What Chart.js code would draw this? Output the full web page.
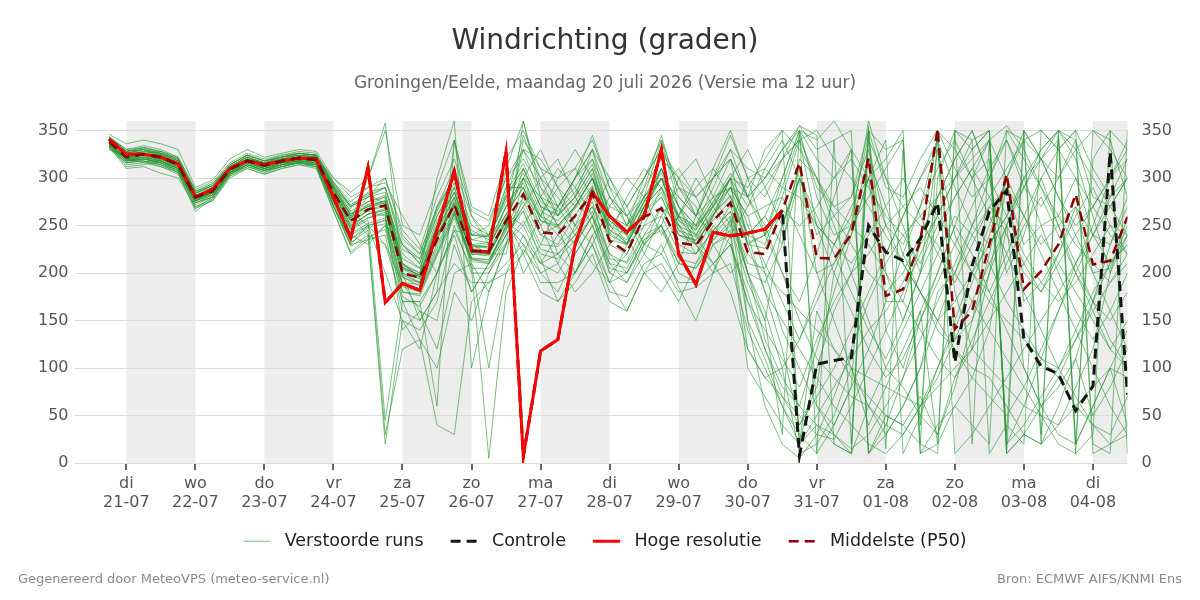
<!DOCTYPE html>
<html>
<head>
<meta charset="utf-8">
<script src="https://cdn.jsdelivr.net/npm/chart.js@4.4.1/dist/chart.umd.min.js"></script>
<style>
  html, body { margin: 0; padding: 0; background: #fff; }
  #wrap { width: 1200px; height: 600px; }
</style>
</head>
<body>
<div id="wrap"><canvas id="grafiek"></canvas></div>
<script>
// dagen op de x-as (labels bij middernacht)
const dayNames = ['di','wo','do','vr','za','zo','ma','di','wo','do','vr','za','zo','ma','di'];
const dayDates = ['21-07','22-07','23-07','24-07','25-07','26-07','27-07','28-07','29-07','30-07','31-07','01-08','02-08','03-08','04-08'];

// uren t.o.v. 21-07 00:00, stap 6 uur, start 20-07 18:00
const startHour = -6;
const stepHours = 6;

// Hoge resolutie (loopt tot 30-07 12 uur)
const hogeRes = [341,325,325,322,315,280,288,310,318,314,318,321,320,280,237,311,169,189,182,245,307,224,222,328,7,118,130,230,285,260,243,260,330,220,188,243,239,242,246,266];

// Controle run
const controle = [341,325,325,322,315,280,288,310,318,314,318,321,320,280,237,311,169,189,182,245,307,224,222,328,7,118,130,230,285,260,243,260,330,220,188,243,239,242,246,266,
  8,104,108,111,250,222,213,236,274,106,208,265,287,131,102,94,55,81,327,72];

// Middelste (P50)
const mediaan = [338,322,325,322,314,280,286,309,318,313,318,321,319,285,255,267,271,200,195,235,272,223,223,255,283,243,241,260,284,234,222,259,268,232,229,255,274,222,220,266,
  316,216,215,241,321,176,183,234,352,141,160,230,304,183,202,230,283,209,213,259];

// Verstoorde runs (ensemble leden)
const runs = [
  [336,318,322,318,310,278,284,306,316,310,316,318,316, 282,250,262,268,195,190,238,270,222,220,255, 330,300,280,250,230,270,300,280,240,260,290,310,280,240,260,230, 300,240,260,280,330,250,230,270,340,290,250,230,260,300,320,280,250,270,300,330],
  [340,324,328,325,318,284,290,312,322,316,320,324,322, 290,262,275,280,210,200,250,285,230,226,270, 300,255,250,270,300,245,232,270,290,240,235,265,290,240,230,280, 340,250,230,260,345,200,150,200,330,180,120,200,290,230,250,260,300,240,230,270],
  [334,316,320,316,308,276,282,305,314,308,314,317,315, 276,240,250,255,180,178,220,262,215,210,240, 270,230,228,245,275,215,212,250,260,222,220,245,265,210,205,250, 300,60,40,80,350,140,100,160,20,60,90,140,250,100,60,80,110,50,80,120],
  [342,330,334,330,322,288,296,316,326,320,324,328,326, 296,270,280,300,240,220,270,300,250,240,290, 330,280,270,290,320,260,250,280,340,270,250,280,320,230,180,120, 40,80,200,250,360,300,250,200,280,320,350,300,200,240,300,330,350,310,280,320],
  [332,320,318,312,306,265,278,304,312,306,312,316,312, 270,228,240,20,150,140,170,250,200,200,230, 250,210,200,230,260,200,190,230,250,210,205,235,255,200,160,100, 10,20,50,100,40,80,120,160,200,250,220,180,140,100,60,30,20,60,100,40],
  [338,326,330,322,316,282,288,310,320,314,318,322,320, 288,256,300,358,200,150,180,340,260,230,310, 360,290,270,300,330,260,240,290,345,280,260,310,350,300,280,320, 355,330,340,350,10,30,60,100,180,200,250,300,350,340,320,300,330,350,340,280],
  [344,330,326,328,320,286,292,314,324,318,322,326,324, 292,268,284,272,230,210,260,290,245,235,280, 310,270,260,280,310,250,240,275,310,255,240,270,300,150,110,60, 20,100,160,200,250,220,260,300,330,240,200,180,220,260,300,250,200,160,120,150],
  [336,312,314,318,312,278,286,308,316,312,316,318,318, 280,245,256,45,170,170,200,265,210,100,200, 240,210,220,240,270,220,210,240,270,230,220,245,265,200,190,230, 320,300,250,200,150,100,80,50,30,80,150,200,250,300,330,350,320,260,200,240],
  [330,322,324,320,314,268,280,306,318,310,314,320,318, 284,255,265,260,190,188,240,272,205,5,180, 225,200,210,250,290,235,230,265,300,245,230,262,280,230,240,300, 350,280,240,250,320,270,220,180,140,120,100,90,60,30,20,40,80,120,200,260],
  [340,322,326,324,316,280,290,310,320,316,320,322,322, 290,262,270,276,205,198,245,280,228,230,262, 250,280,310,290,260,300,270,230,250,300,320,280,250,300,310,290, 280,250,230,210,240,270,300,260,220,190,230,270,250,210,180,220,260,290,250,220],
  [338,320,316,320,312,276,288,308,318,314,318,320,318, 278,248,258,262,140,160,150,230,180,210,250, 280,260,240,220,250,200,220,260,310,270,250,270,290,260,200,140, 100,60,30,15,30,60,90,130,170,210,250,280,310,340,350,330,300,270,240,220],
  [342,328,332,326,320,282,286,312,322,314,320,324,322, 300,280,290,295,260,230,200,245,240,250,300, 320,290,260,280,330,280,260,280,310,260,250,290,330,280,250,200, 150,110,90,70,60,40,30,60,100,140,190,240,300,350,320,280,240,200,160,120],
  [335,318,322,314,308,274,280,304,312,308,312,316,314, 272,230,235,250,170,170,60,340,230,220,220, 300,280,250,200,230,190,200,235,250,200,190,230,240,100,70,40, 20,50,80,110,140,160,190,230,260,300,340,350,10,30,60,90,130,170,210,240],
  [339,324,324,322,316,278,284,308,318,312,318,320,320, 286,258,270,274,210,196,240,275,224,224,258, 300,330,290,250,270,240,280,310,290,250,220,260,300,330,290,250, 310,200,210,240,300,170,170,230,345,130,150,220,300,170,190,220,270,200,205,250],
  [333,310,312,305,300,270,276,302,310,304,310,314,312, 265,220,235,240,160,150,180,210,190,190,210, 230,190,190,200,230,180,175,210,220,190,190,210,230,180,120,80, 60,40,20,10,60,100,140,180,220,260,240,210,170,140,110,90,60,40,30,70],
  [346,336,340,336,330,290,298,320,330,322,326,330,328, 300,285,300,350,250,240,290,340,270,260,320, 350,310,300,310,340,290,270,300,330,290,280,300,330,310,300,330, 350,340,360,330,300,320,350,10,20,350,330,350,10,30,20,350,340,10,20,40],
  [337,320,326,318,310,280,282,306,316,310,316,318,316, 284,250,262,266,200,194,236,270,220,218,254, 240,200,180,220,250,280,260,220,200,170,210,250,230,170,140,110, 80,130,170,200,220,250,270,290,260,230,200,170,150,130,110,100,130,160,190,210],
  [341,326,328,326,318,284,292,312,322,316,322,324,324, 292,265,275,282,220,205,250,285,235,232,270, 295,255,248,268,292,242,230,265,285,245,238,262,282,232,240,290, 345,290,270,280,350,290,280,320,350,310,280,300,340,290,270,300,340,280,270,300],
  [334,318,320,316,308,274,280,304,314,308,314,316,314, 274,232,245,30,120,130,40,30,170,190,200, 220,180,170,190,220,170,160,200,210,180,185,200,210,140,100,60, 30,10,40,80,120,170,220,270,310,340,300,260,220,180,140,100,70,40,20,30],
  [339,322,324,324,314,282,284,308,320,312,318,322,320, 270,230,250,200,150,120,200,240,180,210,250, 310,270,220,200,240,260,240,200,180,210,260,300,320,280,240,264, 20,160,120,90,70,50,40,70,30,90,130,170,210,250,280,240,200,170,150,180],
  [336,322,322,320,312,278,288,310,318,312,318,320,318, 282,252,266,270,200,190,240,272,220,220,255, 200,230,270,300,330,300,260,230,220,260,300,270,240,240,260,300, 350,320,300,330,10,50,40,20,350,330,300,320,30,350,320,340,10,30,350,330],
  [340,326,330,324,318,280,290,310,320,316,320,322,322, 290,260,280,285,210,195,250,290,230,232,270, 300,260,250,270,300,245,235,270,300,250,240,270,300,250,210,170, 130,180,230,270,300,250,210,180,150,120,90,70,50,80,120,160,200,240,280,300],
  [332,316,318,314,306,270,278,302,312,306,312,316,312, 270,235,248,252,180,176,218,258,212,210,240, 265,225,220,240,265,210,205,240,250,215,210,235,250,190,150,250, 300,260,220,180,140,110,150,200,240,280,310,280,240,200,180,210,240,270,300,320],
  [343,330,332,328,322,286,294,314,324,318,322,326,324, 294,272,282,290,230,215,265,300,240,238,282, 310,270,262,280,310,255,242,276,300,258,246,272,300,270,290,320, 340,300,260,230,200,180,200,240,280,320,350,300,260,220,190,170,190,220,250,240],
  [336,320,322,318,310,276,286,306,316,310,316,318,318, 290,260,240,230,170,130,100,180,150,200,240, 270,300,320,280,250,210,190,220,260,290,270,230,200,220,200,180, 160,140,120,100,90,80,70,60,80,100,120,100,80,60,50,40,60,80,100,90],
  [338,324,326,322,314,280,288,310,318,314,318,320,320, 286,258,272,276,206,198,300,360,100,180,230, 360,280,250,270,300,240,230,265,280,240,234,256,276,230,226,266, 250,270,300,320,290,260,240,210,250,280,310,340,300,260,230,250,270,240,210,230],
  [335,318,320,318,310,276,284,306,316,310,316,318,316, 275,240,230,250,230,210,270,310,260,240,290, 290,250,210,180,200,230,250,280,300,270,240,210,180,120,90,70, 50,30,25,60,100,140,180,220,260,300,330,350,20,40,70,100,140,180,210,230],
  [337,322,324,320,312,278,286,308,318,312,318,320,318, 284,254,266,272,204,196,240,274,222,222,258, 220,260,290,310,280,250,270,300,330,300,260,240,272,200,150,30, 350,10,340,20,355,15,330,40,300,350,20,340,10,350,30,345,20,320,350,10],
  [341,328,330,326,320,284,292,314,324,318,322,326,324, 294,270,280,290,236,220,268,300,240,240,285, 315,275,265,285,315,260,245,280,305,260,248,275,305,280,300,330, 355,345,20,10,340,300,270,250,230,200,170,140,110,80,50,20,10,350,330,300],
  [333,316,318,314,306,272,280,304,314,308,312,316,314, 270,236,250,256,186,180,222,262,214,212,244, 340,310,270,240,210,190,230,270,290,260,230,200,258,150,60,20, 5,30,70,120,170,210,240,260,280,300,320,340,355,330,290,250,210,170,130,100],
  [339,326,326,324,316,282,290,310,320,316,318,322,320, 288,262,272,280,215,205,255,285,235,240,275, 345,300,260,300,345,290,250,300,340,290,260,300,345,300,240,200, 170,220,280,330,10,40,90,150,200,250,300,340,20,60,110,160,210,250,300,340],
  [335,320,320,316,310,276,282,306,314,310,314,318,316, 280,246,258,264,196,186,230,266,215,214,248, 265,215,170,200,240,190,160,200,230,185,150,200,240,270,310,340, 300,250,200,160,120,90,110,150,190,230,270,310,340,300,250,200,160,130,160,200],
  [343,328,332,328,320,286,294,314,324,318,324,326,324, 296,275,290,300,245,225,280,320,265,255,300, 330,320,290,270,300,270,260,290,320,300,280,300,320,280,330,350, 20,40,30,10,350,330,340,20,10,350,340,10,40,20,350,330,350,20,10,350],
  [331,314,316,312,304,268,276,300,310,304,310,314,310, 266,222,238,246,175,165,200,245,205,205,232, 255,220,215,235,260,205,200,235,245,210,205,230,245,120,90,100, 130,170,210,250,230,200,170,140,110,90,120,150,180,210,240,210,180,150,120,100],
  [340,324,324,322,316,280,290,312,320,314,320,322,322, 290,265,250,230,190,160,120,200,210,180,230, 280,250,270,300,320,280,250,270,300,280,260,280,290,260,270,280, 240,200,150,100,60,30,60,100,150,200,240,270,290,260,220,180,140,100,60,30],
  [337,320,324,320,312,278,286,308,318,312,316,320,318, 284,256,268,274,206,198,244,278,226,228,262, 290,260,300,330,300,250,230,250,290,310,280,240,260,200,130,90, 60,120,180,240,300,340,10,50,100,150,200,250,300,340,20,60,110,170,230,280],
  [338,322,326,322,314,280,288,310,318,314,318,320,320, 286,260,270,276,208,200,246,280,228,228,262, 290,240,230,260,290,230,220,260,280,240,230,260,290,280,300,320, 340,350,320,300,270,240,210,180,150,170,200,230,260,290,320,350,330,300,270,240],
  [334,318,320,316,308,274,282,304,314,308,314,316,314, 276,242,252,258,188,182,226,264,216,214,246, 275,240,250,230,260,220,200,230,270,250,230,210,230,170,120,70, 40,70,100,140,180,220,260,300,340,10,30,60,90,120,150,180,210,240,270,300],
  [342,328,330,326,318,284,292,312,322,316,322,324,322, 292,270,285,290,225,215,260,295,240,238,280, 305,265,255,275,305,255,240,275,300,255,245,275,300,290,320,350, 330,300,270,250,280,310,340,10,40,60,40,20,350,320,290,260,230,210,190,220],
  [336,320,322,318,310,276,286,306,316,310,316,318,316, 280,248,262,266,198,190,236,272,220,220,252, 230,210,240,270,300,260,230,270,310,270,230,260,300,240,180,150, 120,90,60,40,20,10,30,60,90,130,170,210,250,290,330,350,20,60,100,140]
];

Chart.defaults.font.family = "'DejaVu Sans', sans-serif";

function punten(vals) {
  return vals.map((v, i) => ({ x: startHour + i * stepHours, y: v }));
}

const datasets = [];
runs.forEach((r, i) => {
  datasets.push({
    label: i === 0 ? 'Verstoorde runs' : '',
    data: punten(r),
    borderColor: 'rgba(40,150,50,0.6)',
    borderWidth: 1,
    pointRadius: 0,
    order: 4
  });
});
datasets.push({ label: 'Controle', data: punten(controle), borderColor: '#151515', borderWidth: 3, borderDash: [10, 6], pointRadius: 0, order: 3 });
datasets.push({ label: 'Hoge resolutie', data: punten(hogeRes), borderColor: '#ff0000', borderWidth: 3, pointRadius: 0, order: 2 });
datasets.push({ label: 'Middelste (P50)', data: punten(mediaan), borderColor: '#8b0000', borderWidth: 2.5, borderDash: [10, 6], pointRadius: 0, order: 1 });

// grijze banden om de dag
const dagBanden = {
  id: 'dagBanden',
  beforeDraw(chart) {
    const ctx = chart.ctx, x = chart.scales.x, a = chart.chartArea;
    ctx.save();
    ctx.fillStyle = '#ededed';
    for (let d = 0; d < dayDates.length; d += 2) {
      const l = Math.max(x.getPixelForValue(d * 24), a.left);
      const r = Math.min(x.getPixelForValue(d * 24 + 24), a.right);
      if (r > l) ctx.fillRect(l, a.top, r - l, a.bottom - a.top);
    }
    ctx.restore();
  }
};

// voettekst
const voetTekst = {
  id: 'voetTekst',
  afterDraw(chart) {
    const ctx = chart.ctx;
    ctx.save();
    ctx.font = "13px 'DejaVu Sans', sans-serif";
    ctx.fillStyle = '#8a8a8a';
    ctx.textBaseline = 'middle';
    ctx.textAlign = 'left';
    ctx.fillText('Gegenereerd door MeteoVPS (meteo-service.nl)', 18, 580);
    ctx.textAlign = 'right';
    ctx.fillText('Bron: ECMWF AIFS/KNMI Ens', 1182, 580);
    ctx.restore();
  }
};

const yTicks = { stepSize: 50, includeBounds: false, font: { size: 16 }, color: '#555', padding: 6 };
const standaardLabels = Chart.defaults.plugins.legend.labels.generateLabels;

new Chart(document.getElementById('grafiek'), {
  type: 'line',
  data: { datasets: datasets },
  plugins: [dagBanden, voetTekst],
  options: {
    responsive: true,
    maintainAspectRatio: false,
    animation: false,
    layout: { padding: { left: 32, right: 22, bottom: 40 } },
    plugins: {
      title: {
        display: true,
        text: 'Windrichting (graden)',
        font: { size: 28, weight: 'normal' },
        color: '#333',
        padding: { top: 25, bottom: 15 }
      },
      subtitle: {
        display: true,
        text: 'Groningen/Eelde, maandag 20 juli 2026 (Versie ma 12 uur)',
        font: { size: 17 },
        color: '#666',
        padding: { bottom: 27 }
      },
      legend: {
        position: 'bottom',
        labels: {
          usePointStyle: true,
          pointStyle: 'line',
          pointStyleWidth: 27,
          font: { size: 17.5 },
          color: '#222',
          padding: 16,
          // lijnstijl van de dataset overnemen + extra ruimte tussen de items
          generateLabels: chart => standaardLabels(chart).map(it => {
            const ds = chart.data.datasets[it.datasetIndex];
            it.strokeStyle = ds.borderColor;
            it.lineWidth = ds.borderWidth;
            it.lineDash = ds.borderDash || [];
            if (it.text) it.text = ' ' + it.text + (it.text !== 'Middelste (P50)' ? '  ' : '');
            return it;
          }),
          filter: item => item.text !== '',
          sort: (a, b) => a.datasetIndex - b.datasetIndex
        }
      },
      tooltip: { enabled: false }
    },
    scales: {
      x: {
        type: 'linear',
        min: -18,
        max: 348,
        afterBuildTicks: s => { s.ticks = dayDates.map((d, i) => ({ value: i * 24 })); },
        ticks: {
          autoSkip: false,
          maxRotation: 0,
          font: { size: 16 },
          color: '#555',
          padding: 4,
          callback: v => { const i = Math.round(v / 24); return [dayNames[i], dayDates[i]]; }
        },
        grid: { drawOnChartArea: false, tickLength: 7, color: '#666', lineWidth: 2 },
        border: { display: false }
      },
      y: {
        min: 0,
        max: 360,
        ticks: yTicks,
        grid: { color: '#dcdcdc', drawTicks: false },
        border: { display: false }
      },
      y2: {
        position: 'right',
        min: 0,
        max: 360,
        ticks: yTicks,
        grid: { display: false },
        border: { display: false }
      }
    }
  }
});
</script>
</body>
</html>
